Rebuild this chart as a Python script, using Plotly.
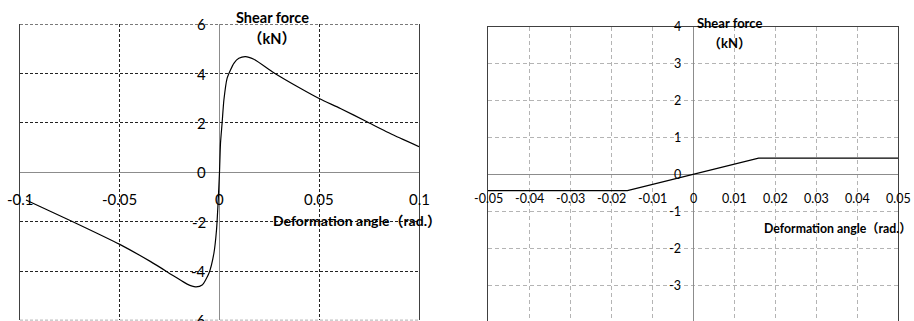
import plotly.graph_objects as go

# Left panel: hysteresis skeleton curve (shear force vs. deformation angle)
angle_a = [-0.097, -0.0746, -0.05, -0.0345, -0.0229, -0.0162, -0.012, -0.0087,
           -0.0053, -0.0028, -0.0015, -0.0008, 0.0, 0.0005, 0.0013, 0.0022,
           0.0038, 0.0055, 0.0072, 0.0097, 0.013, 0.0172, 0.0272, 0.0405,
           0.0505, 0.0606, 0.0739, 0.0872, 0.1]
shear_a = [-1.12, -1.96, -2.92, -3.62, -4.20, -4.53, -4.64, -4.57,
           -4.09, -3.28, -2.34, -1.39, 0.0, 1.18, 1.99, 2.93,
           3.81, 4.15, 4.42, 4.62, 4.69, 4.58, 4.04, 3.41,
           2.97, 2.59, 2.05, 1.51, 1.04]

# Right panel: bilinear model
angle_b = [-0.05, -0.016, 0.016, 0.05]
shear_b = [-0.43, -0.43, 0.45, 0.45]

# Tick values / labels
xticks_a = [-0.1, -0.05, 0, 0.05, 0.1]
xlabels_a = ["-0.1", "-0.05", "0", "0.05", "0.1"]
yticks_a = [6, 4, 2, 0, -2, -4, -6]
xticks_b = [-0.05, -0.04, -0.03, -0.02, -0.01, 0, 0.01, 0.02, 0.03, 0.04, 0.05]
xlabels_b = ["-0.05", "-0.04", "-0.03", "-0.02", "-0.01", "0",
             "0.01", "0.02", "0.03", "0.04", "0.05"]
yticks_b = [4, 3, 2, 1, 0, -1, -2, -3]

y_title = "Shear force"
y_unit = "（kN）"
x_title = "Deformation angle（rad.）"

FONT = "Lato, 'Noto Sans CJK JP', sans-serif"

fig = go.Figure()
fig.add_trace(go.Scatter(x=angle_a, y=shear_a, mode="lines", xaxis="x", yaxis="y",
                         line=dict(color="black", width=1.2, shape="spline", smoothing=0.6),
                         showlegend=False, hoverinfo="skip"))
fig.add_trace(go.Scatter(x=angle_b, y=shear_b, mode="lines", xaxis="x2", yaxis="y2",
                         line=dict(color="black", width=1.3),
                         showlegend=False, hoverinfo="skip"))

common = dict(showticklabels=False, ticks="", zeroline=True,
              zerolinecolor="#8c8c8c", zerolinewidth=1, fixedrange=True)

fig.update_layout(
    width=914, height=321,
    margin=dict(l=0, r=0, t=0, b=0),
    paper_bgcolor="white", plot_bgcolor="white",
    xaxis=dict(domain=[20 / 914, 419 / 914], range=[-0.1, 0.1], anchor="y",
               tickvals=xticks_a, showgrid=True, gridcolor="#222222",
               griddash="3px,2px", gridwidth=1, showline=False, **common),
    yaxis=dict(domain=[0.002, 0.9243], range=[-6, 6], anchor="x",
               tickvals=yticks_a, showgrid=True, gridcolor="#222222",
               griddash="3px,2px", gridwidth=1, showline=True, mirror=True,
               linecolor="#404040", linewidth=1, **common),
    xaxis2=dict(domain=[488 / 914, 898 / 914], range=[-0.05, 0.05], anchor="y2",
                tickvals=xticks_b, showgrid=True, gridcolor="#b4b4b4",
                griddash="4px,3px", gridwidth=1, showline=True, mirror=True,
                linecolor="#404040", linewidth=1, **common),
    yaxis2=dict(domain=[0, 0.9159], range=[-3.956, 4], anchor="x2",
                tickvals=yticks_b, showgrid=True, gridcolor="#b4b4b4",
                griddash="4px,3px", gridwidth=1, showline=True, mirror=True,
                linecolor="#404040", linewidth=1, **common),
)

# Dashed gridlines on the outer rows of the left panel (range edges)
for v in (yticks_a[0], yticks_a[-1]):
    fig.add_shape(type="line", xref="x domain", yref="y", x0=0, x1=1, y0=v, y1=v,
                  line=dict(color="#222222", width=1, dash="3px,2px"), layer="below")

ann = []
# Tick labels, placed along the zero lines
for v, t in zip(xticks_a, xlabels_a):
    ann.append(dict(x=v, y=0, xref="x", yref="y", text=t, showarrow=False,
                    xanchor="center", yanchor="middle", yshift=-27,
                    font=dict(family=FONT, size=15, color="black")))
for v in yticks_a:
    ann.append(dict(x=0, y=v, xref="x", yref="y", text=str(v), showarrow=False,
                    xanchor="right", yanchor="middle", xshift=-12,
                    font=dict(family=FONT, size=15, color="black")))
for v, t in zip(xticks_b, xlabels_b):
    ann.append(dict(x=v, y=0, xref="x2", yref="y2", text=t, showarrow=False,
                    xanchor="center", yanchor="middle", yshift=-24,
                    font=dict(family=FONT, size=12.5, color="black")))
for v in yticks_b:
    ann.append(dict(x=0, y=v, xref="x2", yref="y2", text=str(v), showarrow=False,
                    xanchor="right", yanchor="middle", xshift=-10,
                    font=dict(family=FONT, size=12.5, color="black")))

# Axis titles
def title(x, y, text, size, anchor="center"):
    return dict(x=x, y=y, xref="paper", yref="paper", text=f"<b>{text}</b>",
                showarrow=False, xanchor=anchor, yanchor="middle",
                font=dict(family=FONT, size=size, color="black"))

ann += [
    title(272 / 914, 1 - 17.5 / 321, y_title, 14.5),
    title(272 / 914, 1 - 38 / 321, y_unit, 14.5),
    title(357 / 914, 1 - 220.7 / 321, x_title, 14),
    title(729 / 914, 1 - 23 / 321, y_title, 13),
    title(729 / 914, 1 - 43 / 321, y_unit, 13),
    title(1.0, 1 - 228 / 321, x_title, 12.3, anchor="right"),
]
fig.update_layout(annotations=ann)

fig.write_html("out.html")
